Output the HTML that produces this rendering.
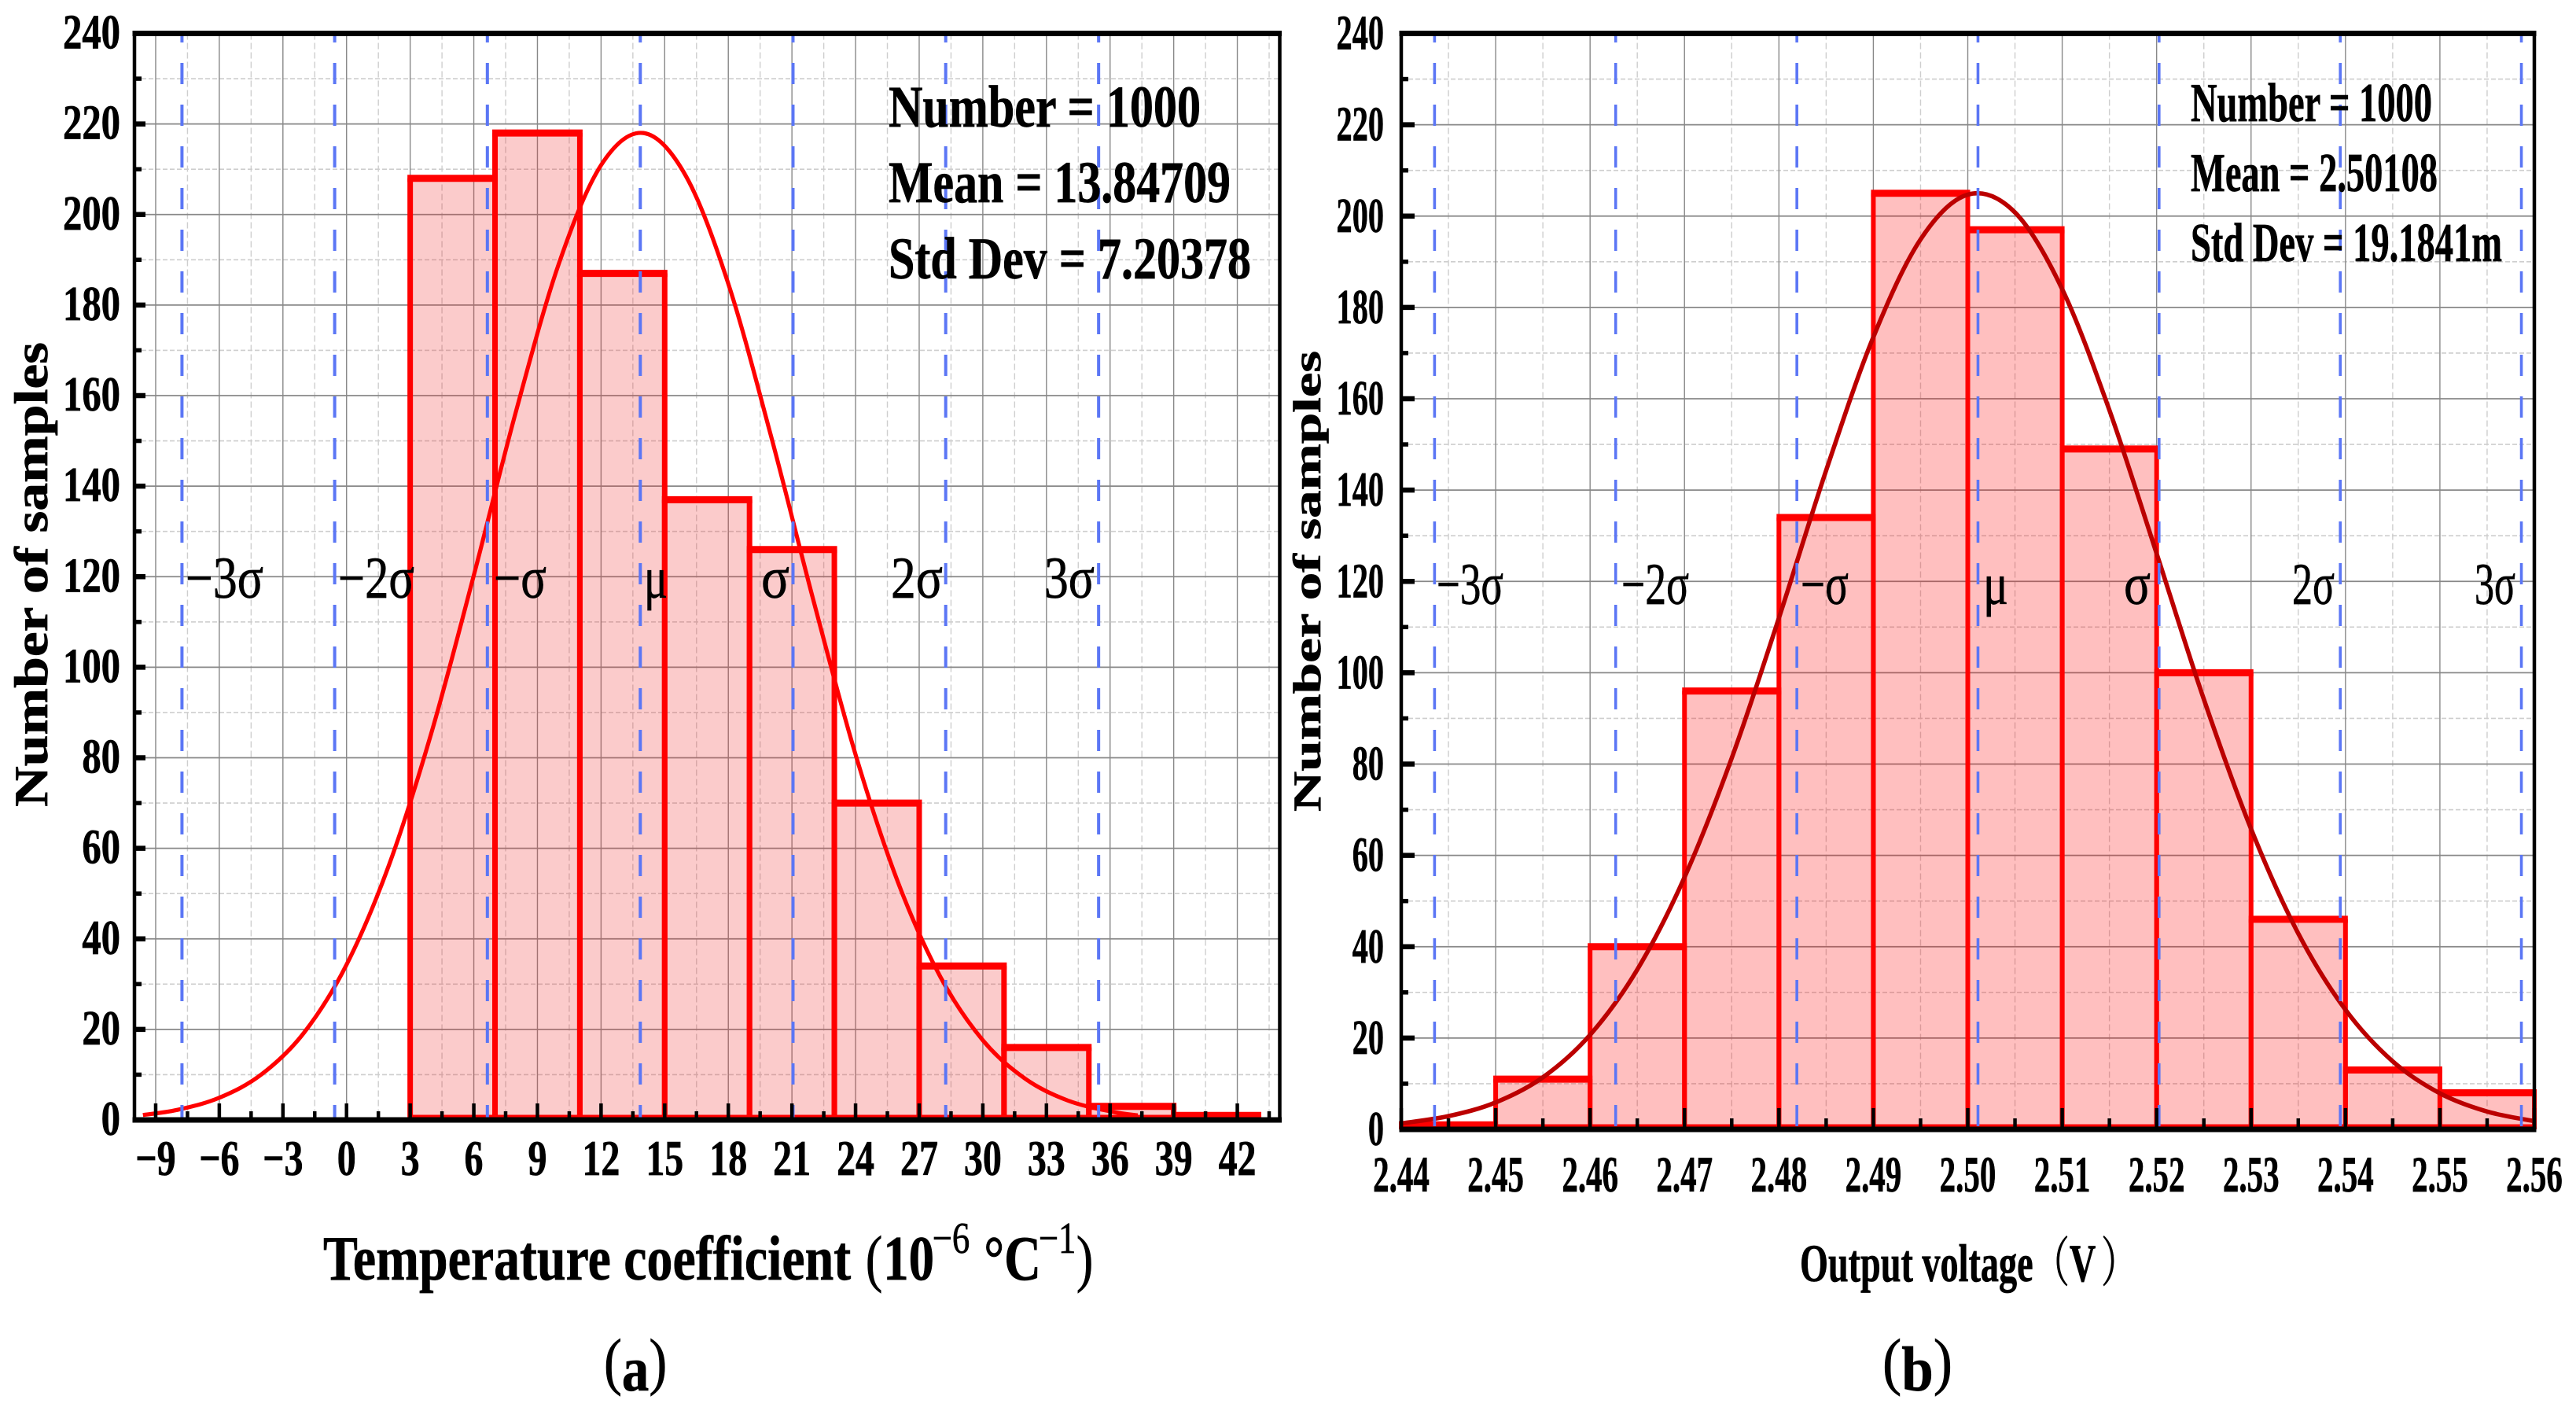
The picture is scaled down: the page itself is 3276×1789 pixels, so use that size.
<!DOCTYPE html>
<html lang="en">
<head>
<meta charset="utf-8">
<title>Histogram panels: temperature coefficient and output voltage</title>
<style>
html,body{margin:0;padding:0;background:#fff;width:3276px;height:1789px;overflow:hidden}
svg{display:block}
text{font-family:"Liberation Serif","Noto Serif CJK SC",serif;fill:#000;stroke:#000;stroke-width:.7px}
</style>
</head>
<body>
<svg id="fig" xmlns="http://www.w3.org/2000/svg" width="3276" height="1789" viewBox="0 0 3276 1789">
  <rect x="0" y="0" width="3276" height="1789" fill="#fff"/>
  <g id="panelA"></g>
  <g id="panelB"></g>

  <g>
    <text x="1130" y="161" font-size="75" font-weight="700" textLength="397" lengthAdjust="spacingAndGlyphs">Number = 1000</text>
    <text x="1130" y="257" font-size="75" font-weight="700" textLength="435" lengthAdjust="spacingAndGlyphs">Mean = 13.84709</text>
    <text x="1130" y="354" font-size="75" font-weight="700" textLength="461" lengthAdjust="spacingAndGlyphs">Std Dev = 7.20378</text>
    <text x="236" y="760" font-size="75" textLength="99" lengthAdjust="spacingAndGlyphs">−3σ</text>
    <text x="430" y="760" font-size="75" textLength="97" lengthAdjust="spacingAndGlyphs">−2σ</text>
    <text x="628" y="760" font-size="75" textLength="67" lengthAdjust="spacingAndGlyphs">−σ</text>
    <text x="819" y="760" font-size="75" textLength="30" lengthAdjust="spacingAndGlyphs">μ</text>
    <text x="968" y="760" font-size="75" textLength="36" lengthAdjust="spacingAndGlyphs">σ</text>
    <text x="1133" y="760" font-size="75" textLength="66" lengthAdjust="spacingAndGlyphs">2σ</text>
    <text x="1328" y="760" font-size="75" textLength="64" lengthAdjust="spacingAndGlyphs">3σ</text>
    <text transform="translate(60,1026) rotate(-90)" font-size="60" font-weight="700" textLength="591" lengthAdjust="spacingAndGlyphs">Number of samples</text>
    <g transform="scale(.8,1)">
      <text x="513.75" y="1627" font-size="81" font-weight="700" textLength="839" lengthAdjust="spacingAndGlyphs">Temperature coefficient</text>
      <text font-size="81" font-weight="700" y="1627"><tspan x="1376" font-weight="400">(</tspan><tspan x="1404">10</tspan><tspan x="1482" y="1593" font-size="56" font-weight="400">−6</tspan><tspan x="1564" y="1627">°C</tspan><tspan x="1651" y="1593" font-size="56" font-weight="400">−1</tspan><tspan x="1711" y="1627" font-weight="400">)</tspan></text>
    </g>
    <text x="0" y="1758" font-size="80" transform="translate(768,0) scale(.86,1)">(<tspan font-weight="700" dy="10">a</tspan><tspan dy="-10">)</tspan></text>
  </g>

  <g>
    <text x="2786" y="154" font-size="70" font-weight="700" textLength="307" lengthAdjust="spacingAndGlyphs">Number = 1000</text>
    <text x="2786" y="243" font-size="70" font-weight="700" textLength="314" lengthAdjust="spacingAndGlyphs">Mean = 2.50108</text>
    <text x="2786" y="332" font-size="70" font-weight="700" textLength="396" lengthAdjust="spacingAndGlyphs">Std Dev = 19.1841m</text>
    <text x="1827" y="768" font-size="75" textLength="85" lengthAdjust="spacingAndGlyphs">−3σ</text>
    <text x="2062" y="768" font-size="75" textLength="86" lengthAdjust="spacingAndGlyphs">−2σ</text>
    <text x="2290" y="768" font-size="75" textLength="61" lengthAdjust="spacingAndGlyphs">−σ</text>
    <text x="2522" y="768" font-size="75" textLength="32" lengthAdjust="spacingAndGlyphs">μ</text>
    <text x="2701" y="768" font-size="75" textLength="34" lengthAdjust="spacingAndGlyphs">σ</text>
    <text x="2915" y="768" font-size="75" textLength="54" lengthAdjust="spacingAndGlyphs">2σ</text>
    <text x="3147" y="768" font-size="75" textLength="52" lengthAdjust="spacingAndGlyphs">3σ</text>
    <text transform="translate(1679,1032) rotate(-90)" font-size="50" font-weight="700" textLength="586" lengthAdjust="spacingAndGlyphs">Number of samples</text>
    <text transform="translate(2289,1629) scale(.68,1)" font-size="68" font-weight="700">Output voltage<tspan font-weight="400">（</tspan>V<tspan font-weight="400" dx="10">）</tspan></text>
    <text x="0" y="1758" font-size="80" transform="translate(2394,0) scale(.91,1)">(<tspan font-weight="700" dy="10">b</tspan><tspan dy="-10">)</tspan></text>
  </g>
</svg>

<script>
/* Panel (a) data */
const binStartsA = [3, 7, 11, 15, 19, 23, 27, 31, 35, 39];
const binCountsA = [208, 218, 187, 137, 126, 70, 34, 16, 3, 1];
const binWidthA = 4;
const curveXA = [-9.6, -8, -6, -4, -2, 0, 2, 4, 6, 8, 10, 12, 14, 16, 18, 20, 22, 24, 26, 28, 30, 32, 34, 36, 37.3];
const curveYA = [1.1, 2.2, 4.9, 10.1, 19.3, 34.3, 56.3, 85.5, 120.3, 156.7, 189, 210.9, 218, 208.5, 184.7, 151.3, 115, 80.7, 52.5, 31.6, 17.6, 9.1, 4.3, 1.9, 1];
const sigmaXA = [-7.76, -0.56, 6.64, 13.85, 21.05, 28.25, 35.46];
const xTicksA = [-9, -6, -3, 0, 3, 6, 9, 12, 15, 18, 21, 24, 27, 30, 33, 36, 39, 42];
const xTickLabelsA = ['−9', '−6', '−3', '0', '3', '6', '9', '12', '15', '18', '21', '24', '27', '30', '33', '36', '39', '42'];
const xMinorA = [-7.5, -4.5, -1.5, 1.5, 4.5, 7.5, 10.5, 13.5, 16.5, 19.5, 22.5, 25.5, 28.5, 31.5, 34.5, 37.5, 40.5, 43.5];
const yTicksA = [0, 20, 40, 60, 80, 100, 120, 140, 160, 180, 200, 220, 240];
const yTickLabelsA = ['0', '20', '40', '60', '80', '100', '120', '140', '160', '180', '200', '220', '240'];
const yMinorA = [10, 30, 50, 70, 90, 110, 130, 150, 170, 190, 210, 230];

/* Panel (b) data */
const binStartsB = [2.44, 2.45, 2.46, 2.47, 2.48, 2.49, 2.50, 2.51, 2.52, 2.53, 2.54, 2.55];
const binCountsB = [1, 11, 40, 96, 134, 205, 197, 149, 100, 46, 13, 8];
const binWidthB = 0.01;
const curveXB = [2.44, 2.445, 2.45, 2.455, 2.46, 2.465, 2.47, 2.475, 2.48, 2.485, 2.49, 2.495, 2.50, 2.505, 2.51, 2.515, 2.52, 2.525, 2.53, 2.535, 2.54, 2.545, 2.55, 2.555, 2.56];
const curveYB = [1.3, 2.9, 5.9, 11.4, 20.7, 35, 55.2, 81.3, 112, 144.3, 173.5, 194.9, 204.7, 200.8, 184, 157.5, 126.1, 94.2, 65.8, 42.9, 26.2, 14.9, 7.9, 3.9, 1.8];
const sigmaXB = [2.44353, 2.46271, 2.4819, 2.50108, 2.52026, 2.53945, 2.55863];
const xTicksB = [2.44, 2.45, 2.46, 2.47, 2.48, 2.49, 2.50, 2.51, 2.52, 2.53, 2.54, 2.55, 2.56];
const xTickLabelsB = ['2.44', '2.45', '2.46', '2.47', '2.48', '2.49', '2.50', '2.51', '2.52', '2.53', '2.54', '2.55', '2.56'];
const xMinorB = [2.445, 2.455, 2.465, 2.475, 2.485, 2.495, 2.505, 2.515, 2.525, 2.535, 2.545, 2.555];
const yTicksB = [0, 20, 40, 60, 80, 100, 120, 140, 160, 180, 200, 220, 240];
const yTickLabelsB = ['0', '20', '40', '60', '80', '100', '120', '140', '160', '180', '200', '220', '240'];
const yMinorB = [10, 30, 50, 70, 90, 110, 130, 150, 170, 190, 210, 230];

const NS = 'http://www.w3.org/2000/svg';

function make(parent, tag, attrs) {
  const el = document.createElementNS(NS, tag);
  for (const k in attrs) el.setAttribute(k, attrs[k]);
  parent.appendChild(el);
  return el;
}

function smoothPath(pts) {
  let d = 'M' + pts[0][0].toFixed(2) + ' ' + pts[0][1].toFixed(2);
  for (let i = 0; i < pts.length - 1; i++) {
    const p0 = pts[Math.max(i - 1, 0)], p1 = pts[i], p2 = pts[i + 1], p3 = pts[Math.min(i + 2, pts.length - 1)];
    const c1x = p1[0] + (p2[0] - p0[0]) / 6, c1y = p1[1] + (p2[1] - p0[1]) / 6;
    const c2x = p2[0] - (p3[0] - p1[0]) / 6, c2y = p2[1] - (p3[1] - p1[1]) / 6;
    d += 'C' + c1x.toFixed(2) + ' ' + c1y.toFixed(2) + ' ' + c2x.toFixed(2) + ' ' + c2y.toFixed(2) + ' ' + p2[0].toFixed(2) + ' ' + p2[1].toFixed(2);
  }
  return d;
}

function drawPanel(root, c) {
  const X = v => c.left + (v - c.xMin) / (c.xMax - c.xMin) * (c.right - c.left);
  const Y = v => c.bottom - v / 240 * (c.bottom - c.top);

  /* minor grid */
  c.yMinor.forEach(v => {
    const el = make(root, 'line', {x1: c.left, x2: c.right, y1: Y(v), y2: Y(v), stroke: '#cecece', 'stroke-width': 1.7, 'stroke-dasharray': '6 3'});
    
    
  });
  c.xMinor.forEach(v => {
    const el = make(root, 'line', {x1: X(v), x2: X(v), y1: c.top, y2: c.bottom, stroke: '#cecece', 'stroke-width': 1.4, 'stroke-dasharray': '8 4'});
    
    
  });
  /* major grid */
  c.yTicks.forEach(v => {
    const el = make(root, 'line', {x1: c.left, x2: c.right, y1: Y(v), y2: Y(v), stroke: '#888', 'stroke-width': 1.8});
    
    
  });
  c.xTicks.forEach(v => {
    const el = make(root, 'line', {x1: X(v), x2: X(v), y1: c.top, y2: c.bottom, stroke: '#888', 'stroke-width': 1.4});
    
    
  });

  /* histogram bars */
  c.binStarts.forEach((s, i) => {
    const g = make(root, 'g', {});
    
    
    const x0 = X(s), x1 = X(s + c.binWidth), yt = Y(c.binCounts[i]);
    make(g, 'rect', {x: x0, y: yt, width: x1 - x0, height: c.bottom - yt, fill: c.barFill, 'fill-opacity': c.barOpacity});
    make(g, 'path', {d: 'M' + x0 + ' ' + c.bottom + 'V' + yt + 'M' + x1 + ' ' + yt + 'V' + c.bottom, stroke: '#f00', 'stroke-width': c.barSide, fill: 'none'});
    make(g, 'path', {d: 'M' + (x0 - c.barSide / 2) + ' ' + yt + 'H' + (x1 + c.barSide / 2), stroke: '#f00', 'stroke-width': 9, fill: 'none'});
    make(g, 'path', {d: 'M' + x0 + ' ' + (c.bottom - 5) + 'H' + x1, stroke: '#f00', 'stroke-width': 3, fill: 'none'});
  });

  /* fitted curve */
  const curvePts = c.curveX.map((v, i) => [X(v), Y(c.curveY[i])]);
  const curve = make(root, 'path', {d: smoothPath(curvePts), fill: 'none', stroke: c.curveColor, 'stroke-width': c.curveWidth, 'stroke-linejoin': 'round'});
  
  

  /* sigma guide lines */
  c.sigmaX.forEach(v => {
    const el = make(root, 'line', {x1: X(v), x2: X(v), y1: c.top, y2: c.bottom, stroke: '#5b76f5', 'stroke-width': c.sigmaWidth, 'stroke-dasharray': '27 26', 'stroke-dashoffset': c.top - 27});
    
    
  });

  /* ticks */
  c.xMinor.forEach(v => {
    const el = make(root, 'line', {x1: X(v), x2: X(v), y1: c.bottom, y2: c.bottom - c.xMinorLen, stroke: '#000', 'stroke-width': 4.5});
    
    
  });
  c.xTicks.forEach(v => {
    const el = make(root, 'line', {x1: X(v), x2: X(v), y1: c.bottom, y2: c.bottom - c.xMajorLen, stroke: '#000', 'stroke-width': 4.5});
    
    
  });
  c.yMinor.forEach(v => {
    const el = make(root, 'line', {x1: c.left, x2: c.left + 9, y1: Y(v), y2: Y(v), stroke: '#000', 'stroke-width': 5.5});
    
    
  });
  c.yTicks.forEach(v => {
    const el = make(root, 'line', {x1: c.left, x2: c.left + c.yMajorLen, y1: Y(v), y2: Y(v), stroke: '#000', 'stroke-width': 6.5});
    
    
  });

  /* axis frame */
  const frame = make(root, 'g', {stroke: '#000', fill: 'none'});
  
  
  make(frame, 'line', {x1: c.left - 2.5, x2: c.right + 2.5, y1: c.top, y2: c.top, 'stroke-width': 7});
  make(frame, 'line', {x1: c.left - 2.5, x2: c.right + 2.5, y1: c.bottom, y2: c.bottom, 'stroke-width': 7});
  make(frame, 'line', {x1: c.left, x2: c.left, y1: c.top, y2: c.bottom, 'stroke-width': 4.5});
  make(frame, 'line', {x1: c.right, x2: c.right, y1: c.top, y2: c.bottom, 'stroke-width': 4.5});

  /* tick labels */
  c.yTicks.forEach((v, i) => {
    const el = make(root, 'text', {transform: 'translate(' + c.yLabelX + ',' + (Y(v) + c.yLabelDrop) + ') scale(' + c.yLabelScale + ',1)', 'font-size': c.yLabelSize, 'font-weight': 700, 'text-anchor': 'end'});
    el.textContent = c.yTickLabels[i];
    
    
  });
  c.xTicks.forEach((v, i) => {
    const el = make(root, 'text', {transform: 'translate(' + X(v) + ',' + c.xLabelY + ') scale(' + c.xLabelScale + ',1)', 'font-size': c.xLabelSize, 'font-weight': 700, 'text-anchor': 'middle'});
    el.textContent = c.xTickLabels[i];
    
    
  });
}

drawPanel(document.getElementById('panelA'), {
  left: 171, right: 1627.5, top: 42.5, bottom: 1424, xMin: -10, xMax: 44,
  binStarts: binStartsA, binCounts: binCountsA, binWidth: binWidthA,
  curveX: curveXA, curveY: curveYA, sigmaX: sigmaXA,
  xTicks: xTicksA, xTickLabels: xTickLabelsA, xMinor: xMinorA,
  yTicks: yTicksA, yTickLabels: yTickLabelsA, yMinor: yMinorA,
  barFill: '#f03030', barOpacity: 0.25, barSide: 7,
  curveColor: '#f00', curveWidth: 5.2, sigmaWidth: 4,
  xMajorLen: 21, xMinorLen: 11, yMajorLen: 14,
  yLabelX: 153, yLabelDrop: 19, yLabelSize: 62, yLabelScale: 0.785,
  xLabelY: 1494, xLabelSize: 64, xLabelScale: 0.75
});

drawPanel(document.getElementById('panelB'), {
  left: 1782, right: 3223, top: 42.5, bottom: 1436, xMin: 2.44, xMax: 2.56,
  binStarts: binStartsB, binCounts: binCountsB, binWidth: binWidthB,
  curveX: curveXB, curveY: curveYB, sigmaX: sigmaXB,
  xTicks: xTicksB, xTickLabels: xTickLabelsB, xMinor: xMinorB,
  yTicks: yTicksB, yTickLabels: yTickLabelsB, yMinor: yMinorB,
  barFill: '#ff0000', barOpacity: 0.25, barSide: 6,
  curveColor: '#bb0000', curveWidth: 5.6, sigmaWidth: 3.6,
  xMajorLen: 27, xMinorLen: 14, yMajorLen: 17,
  yLabelX: 1760, yLabelDrop: 20, yLabelSize: 63, yLabelScale: 0.64,
  xLabelY: 1515, xLabelSize: 65, xLabelScale: 0.63
});
</script>
</body>
</html>
